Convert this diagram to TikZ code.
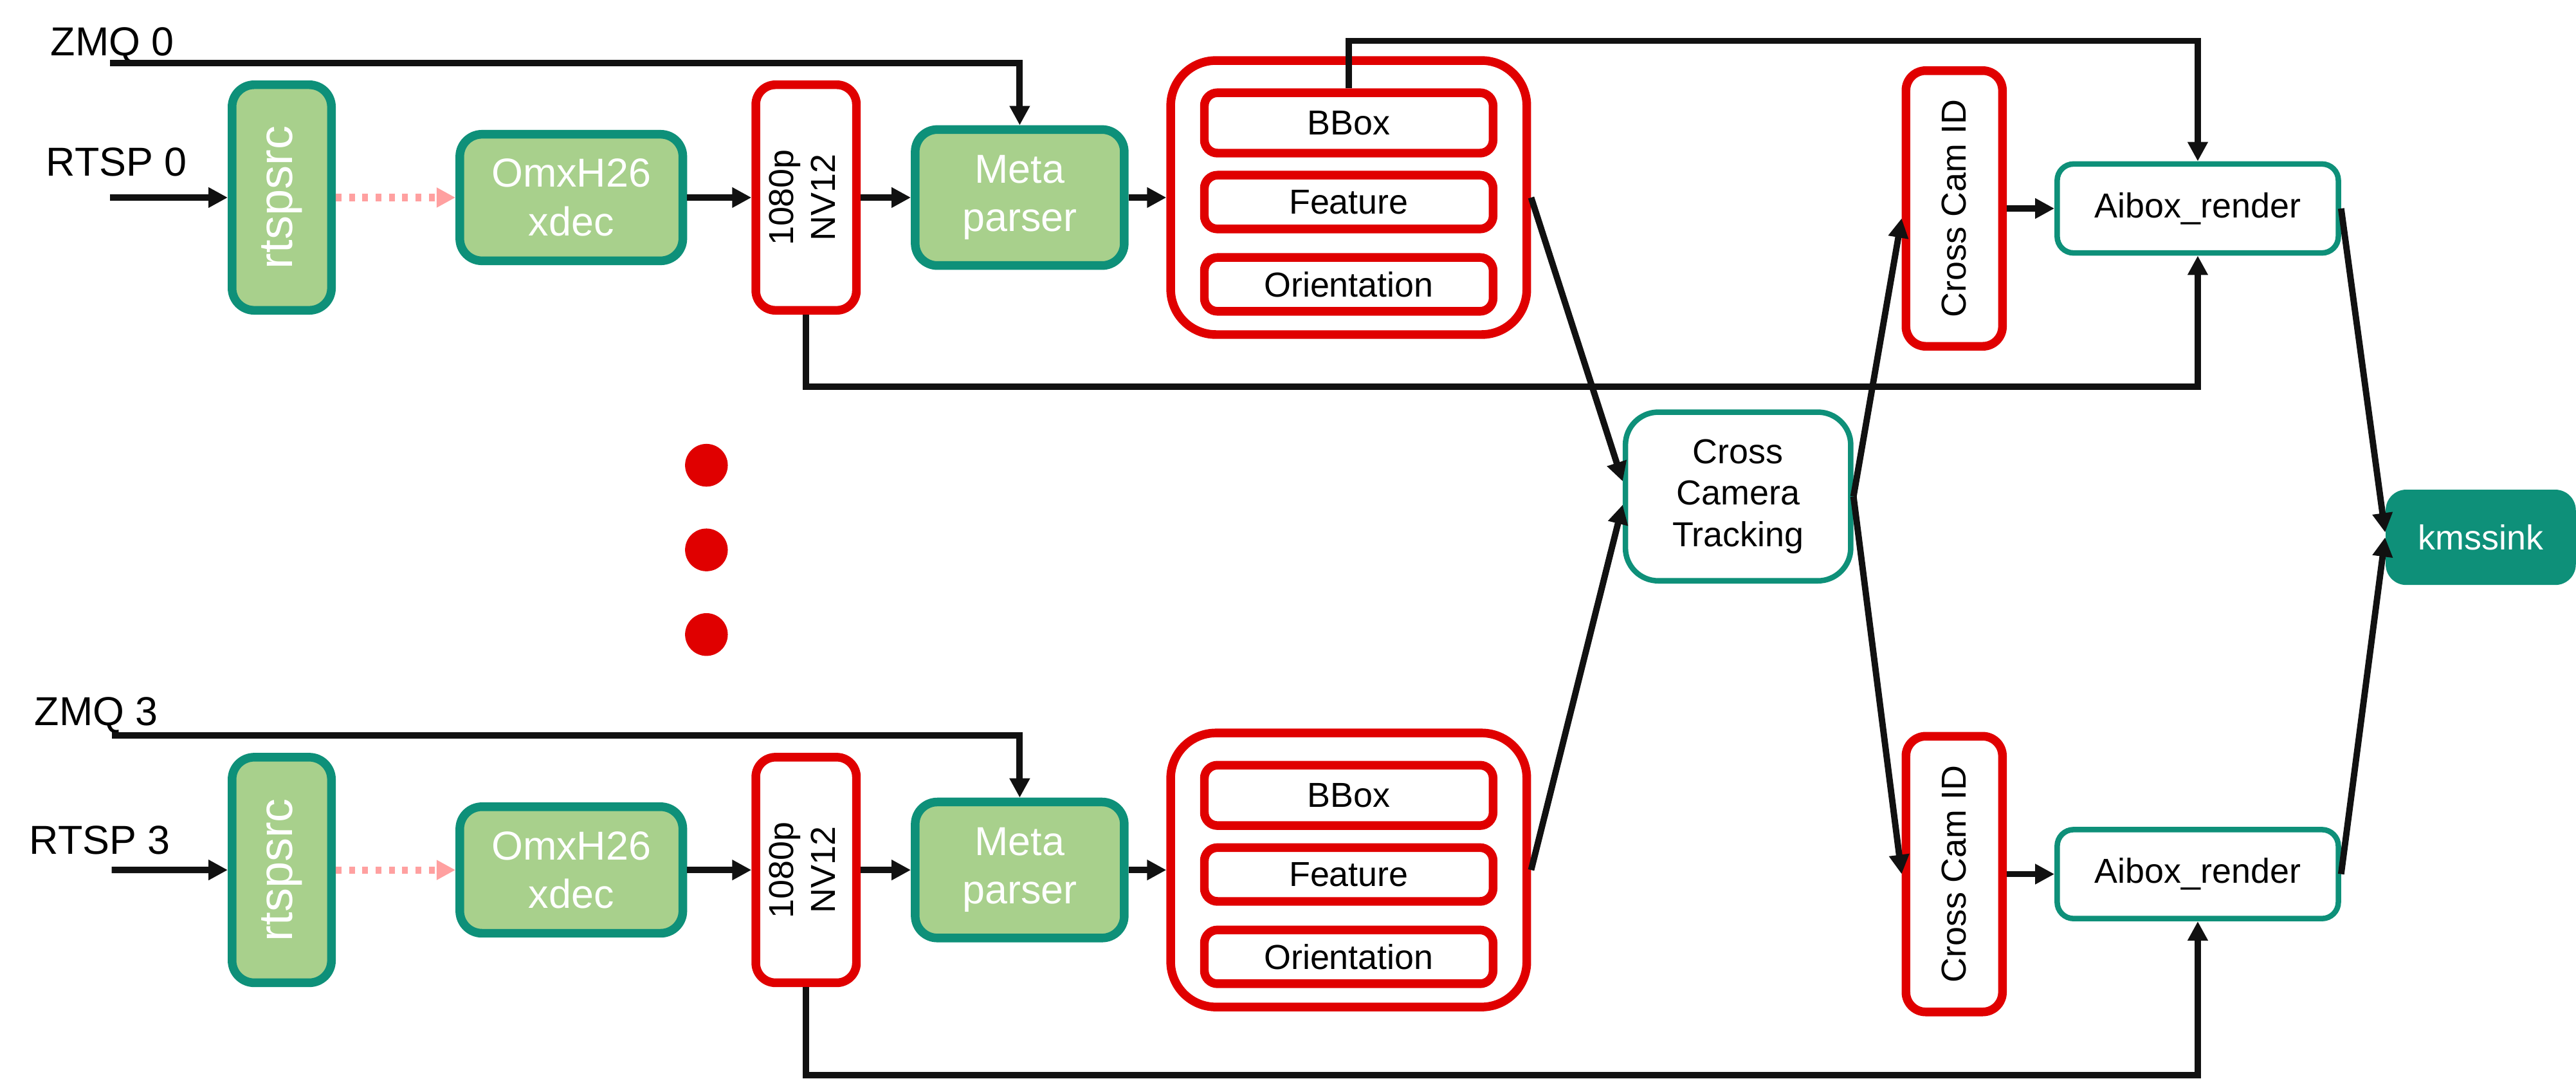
\documentclass[tikz,border=0pt]{standalone}
\usepackage{fontspec}
\setmainfont{Liberation Sans}
\usetikzlibrary{arrows.meta,positioning}
\definecolor{gfill}{RGB}{168,208,140}
\definecolor{tealb}{RGB}{14,144,121}
\definecolor{redb}{RGB}{224,0,0}
\definecolor{pinkb}{RGB}{255,160,160}
\definecolor{lineb}{RGB}{17,17,17}
\newcommand\fsa{\fontsize{14pt}{16.8pt}\selectfont}
\newcommand\fsb{\fontsize{12pt}{14.4pt}\selectfont}
\newcommand\fsc{\fontsize{16.5pt}{19pt}\selectfont}

\begin{document}
\begin{tikzpicture}[>={Triangle[length=2.35mm,width=2.35mm]},
  gbox/.style={draw=tealb,line width=3pt,fill=gfill,rounded corners=2.7mm,text=white,font=\fsa,align=center,inner sep=0pt},
  rbox/.style={draw=redb,line width=3pt,fill=white,rounded corners=2.4mm,font=\fsb,align=center,inner sep=0pt},
  ibox/.style={rbox,rounded corners=1.6mm,minimum width=35.15mm,minimum height=6.55mm},
  tbox/.style={draw=tealb,line width=1.9pt,fill=white,rounded corners=2mm,font=\fsb,align=center,inner sep=0pt},
  lbl/.style={anchor=base west,inner sep=0pt,font=\fsa},
  ar/.style={draw=lineb,line width=2.2pt,->},
  dotar/.style={draw=pinkb,line width=2.5pt,dash pattern=on 2pt off 2.6pt,-{Triangle[length=2.3mm,width=2.3mm]}}]
\useasboundingbox (0,0) rectangle (31.36,-13.13);

% stream 0
\node[gbox,minimum width=12.1mm,minimum height=27.45mm] (rtsp0) at (3.43,-2.404) {\rotatebox{90}{\fsc rtspsrc}};
\node[gbox,minimum width=27.15mm,minimum height=15.4mm,right=14.57mm of rtsp0] (dec0) {OmxH26\\xdec};
\node[rbox,minimum width=12.25mm,minimum height=27.45mm,right=7.83mm of dec0] (nv0) {\rotatebox{90}{\begin{tabular}{@{}c@{}}1080p\\NV12\end{tabular}}};
\node[gbox,minimum width=25.45mm,minimum height=16.55mm,right=6.1mm of nv0] (meta0) {Meta\\parser};
\node[rbox,rounded corners=5.5mm,minimum width=43.35mm,minimum height=33.35mm,right=4.6mm of meta0] (grp0) {};
\node[ibox,minimum height=7.35mm] (bbox0) at ([yshift=9.08mm]grp0.center) {BBox};
\node[ibox] (feat0) at ([yshift=-0.55mm]grp0.center) {Feature};
\node[ibox] (orient0) at ([yshift=-10.57mm]grp0.center) {Orientation};

% stream 3
\node[gbox,minimum width=12.1mm,minimum height=27.45mm,below=53.33mm of rtsp0] (rtsp3) {\rotatebox{90}{\fsc rtspsrc}};
\node[gbox,minimum width=27.15mm,minimum height=15.4mm,right=14.57mm of rtsp3] (dec3) {OmxH26\\xdec};
\node[rbox,minimum width=12.25mm,minimum height=27.45mm,right=7.83mm of dec3] (nv3) {\rotatebox{90}{\begin{tabular}{@{}c@{}}1080p\\NV12\end{tabular}}};
\node[gbox,minimum width=25.45mm,minimum height=16.55mm,right=6.1mm of nv3] (meta3) {Meta\\parser};
\node[rbox,rounded corners=5.5mm,minimum width=43.35mm,minimum height=33.35mm,right=4.6mm of meta3] (grp3) {};
\node[ibox,minimum height=7.35mm] (bbox3) at ([yshift=9.08mm]grp3.center) {BBox};
\node[ibox] (feat3) at ([yshift=-0.55mm]grp3.center) {Feature};
\node[ibox] (orient3) at ([yshift=-10.57mm]grp3.center) {Orientation};

% tracking and render
\node[tbox,rounded corners=4mm,minimum width=27.43mm,minimum height=20.53mm] (cct) at (21.159,-6.042) {Cross\\Camera\\Tracking};
\node[rbox,minimum width=11.75mm,minimum height=33.55mm] (ccid0) at (23.79,-2.537) {\rotatebox{90}{Cross Cam ID}};
\node[tbox,minimum width=34.23mm,minimum height=10.83mm,right=5.8mm of ccid0] (aibox0) {Aibox\_render};
\node[rbox,minimum width=11.75mm,minimum height=33.55mm,below=46.4mm of ccid0] (ccid3) {\rotatebox{90}{Cross Cam ID}};
\node[tbox,minimum width=34.23mm,minimum height=10.83mm,right=5.8mm of ccid3] (aibox3) {Aibox\_render};
\node[fill=tealb,text=white,font=\fsb,rounded corners=2.5mm,minimum width=23.15mm,minimum height=11.6mm] (kms) at (30.2,-6.539) {kmssink};

% inputs
\node[lbl] (zmq0) at (0.611,-0.681) {ZMQ 0};
\node[lbl] (rtspin0) at (0.556,-2.138) {RTSP 0};
\node[lbl] (zmq3) at (0.415,-8.826) {ZMQ 3};
\node[lbl] (rtspin3) at (0.352,-10.392) {RTSP 3};
\coordinate (z0) at (1.34,-0.764);
\coordinate (s0) at (1.34,-2.404);
\coordinate (z3) at (1.36,-8.947);
\coordinate (s3) at (1.36,-10.587);
\coordinate (top0) at (0,-0.497);
\coordinate (loop0) at (0,-4.706);
\coordinate (loop3) at (0,-13.086);

\foreach \k in {0,1,2} \fill[redb] (8.6,-5.662-1.03*\k) circle (2.6mm);

\draw[ar] (s0) -- (rtsp0);
\draw[ar] (z0) -| (meta0);
\draw[dotar] (rtsp0) -- (dec0);
\draw[ar] (dec0) -- (nv0);
\draw[ar] (nv0) -- (meta0);
\draw[ar] (meta0) -- (grp0);
\draw[ar] (s3) -- (rtsp3);
\draw[ar] (z3) -| (meta3);
\draw[dotar] (rtsp3) -- (dec3);
\draw[ar] (dec3) -- (nv3);
\draw[ar] (nv3) -- (meta3);
\draw[ar] (meta3) -- (grp3);

\draw[ar] (bbox0.north) -- (bbox0.north |- top0) -| (aibox0);
\draw[ar] (nv0.south) -- (nv0.south |- loop0) -| (aibox0);
\draw[ar] (nv3.south) -- (nv3.south |- loop3) -| (aibox3);
\draw[ar] (grp0.east) -- ([yshift=1.84mm]cct.west);
\draw[ar] (grp3.east) -- ([yshift=-1mm]cct.west);
\draw[ar] (cct.east) -- ([yshift=-1.2mm]ccid0.west);
\draw[ar] (cct.east) -- (ccid3.west);
\draw[ar] (ccid0) -- (aibox0);
\draw[ar] (ccid3) -- (aibox3);
\draw[ar] (aibox0.east) -- ([yshift=0.6mm]kms.west);
\draw[ar] (aibox3.east) -- (kms.west);
\end{tikzpicture}
\end{document}
